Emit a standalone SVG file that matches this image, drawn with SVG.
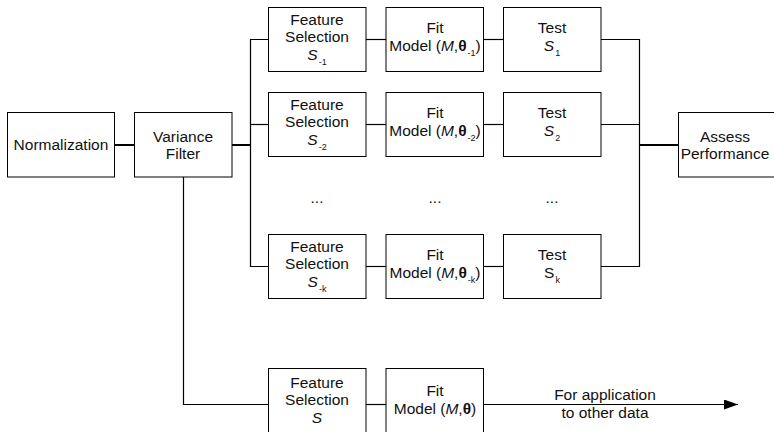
<svg xmlns="http://www.w3.org/2000/svg" width="774" height="432" viewBox="0 0 774 432">
<defs>
<style>
.box{fill:#fff;stroke:#000;stroke-width:1}
.ln{fill:none;stroke:#000;stroke-width:1.2}
.thk{stroke-width:2}
text{font-family:"Liberation Sans",Arial,sans-serif;font-size:15.5px;fill:#111;text-anchor:middle}
.sub{font-size:9px}
.it{font-style:italic}
.b{font-weight:bold}
</style>
<marker id="ah" viewBox="0 0 14 10" refX="14" refY="5" markerWidth="14" markerHeight="10" markerUnits="userSpaceOnUse" orient="auto">
<path d="M0,0 L14,5 L0,10 Z" fill="#000"/>
</marker>
</defs>
<g id="connectors">
<path class="ln thk" d="M114.5,145 H134.5"/>
<path class="ln thk" d="M232,145 H250.5"/>
<path class="ln" d="M268.5,39.5 H250.5 V266.5 H268.5"/>
<path class="ln" d="M250.5,124.5 H268.5"/>
<path class="ln" d="M366,39.5 H386"/>
<path class="ln" d="M366,124.5 H386"/>
<path class="ln" d="M366,266.5 H386"/>
<path class="ln" d="M483.5,39.5 H503.5"/>
<path class="ln" d="M483.5,124.5 H503.5"/>
<path class="ln" d="M483.5,266.5 H503.5"/>
<path class="ln" d="M601,39.5 H639.5 V266.5 H601"/>
<path class="ln" d="M601,124.5 H639.5"/>
<path class="ln thk" d="M639.5,145 H678.5"/>
<path class="ln" d="M183.5,177 V404.5 H268.5"/>
<path class="ln" d="M366,404.5 H386"/>
<path class="ln" d="M483.5,404.5 H738" marker-end="url(#ah)"/>
<text x="605" y="400">For application</text>
<text x="605" y="418">to other data</text>
</g>
<g id="normalization">
<rect class="box" x="7.5" y="112.5" width="107" height="64.5"/>
<text x="61" y="150">Normalization</text>
</g>
<g id="variance-filter">
<rect class="box" x="134.5" y="112.5" width="97.5" height="64.5"/>
<text x="183" y="142">Variance</text>
<text x="183" y="159">Filter</text>
</g>
<g id="fs1">
<rect class="box" x="268.5" y="7.5" width="97.5" height="64"/>
<text x="317" y="25">Feature</text>
<text x="317" y="42">Selection</text>
<text x="317" y="60"><tspan class="it">S</tspan><tspan class="sub" dx="1" dy="5">-1</tspan></text>
</g>
<g id="fit1">
<rect class="box" x="386" y="7.5" width="97.5" height="64"/>
<text x="435" y="33">Fit</text>
<text x="435" y="51">Model (<tspan class="it">M</tspan>,<tspan class="b">θ</tspan><tspan class="sub" dx="1" dy="5">-1</tspan><tspan dy="-5">)</tspan></text>
</g>
<g id="test1">
<rect class="box" x="503.5" y="7.5" width="97.5" height="64"/>
<text x="552" y="33">Test</text>
<text x="552" y="51"><tspan class="it">S</tspan><tspan class="sub" dx="1" dy="5">1</tspan></text>
</g>
<g id="fs2">
<rect class="box" x="268.5" y="92.5" width="97.5" height="64"/>
<text x="317" y="110">Feature</text>
<text x="317" y="127">Selection</text>
<text x="317" y="145"><tspan class="it">S</tspan><tspan class="sub" dx="1" dy="5">-2</tspan></text>
</g>
<g id="fit2">
<rect class="box" x="386" y="92.5" width="97.5" height="64"/>
<text x="435" y="118">Fit</text>
<text x="435" y="136">Model (<tspan class="it">M</tspan>,<tspan class="b">θ</tspan><tspan class="sub" dx="1" dy="5">-2</tspan><tspan dy="-5">)</tspan></text>
</g>
<g id="test2">
<rect class="box" x="503.5" y="92.5" width="97.5" height="64"/>
<text x="552" y="118">Test</text>
<text x="552" y="136"><tspan class="it">S</tspan><tspan class="sub" dx="1" dy="5">2</tspan></text>
</g>
<g id="dots">
<text x="317" y="203">...</text>
<text x="435" y="203">...</text>
<text x="552" y="203">...</text>
</g>
<g id="fsk">
<rect class="box" x="268.5" y="234.5" width="97.5" height="64"/>
<text x="317" y="252">Feature</text>
<text x="317" y="269">Selection</text>
<text x="317" y="287"><tspan class="it">S</tspan><tspan class="sub" dx="1" dy="5">-k</tspan></text>
</g>
<g id="fitk">
<rect class="box" x="386" y="234.5" width="97.5" height="64"/>
<text x="435" y="260">Fit</text>
<text x="435" y="278">Model (<tspan class="it">M</tspan>,<tspan class="b">θ</tspan><tspan class="sub" dx="1" dy="5">-k</tspan><tspan dy="-5">)</tspan></text>
</g>
<g id="testk">
<rect class="box" x="503.5" y="234.5" width="97.5" height="64"/>
<text x="552" y="260">Test</text>
<text x="552" y="278">S<tspan class="sub" dx="1" dy="5">k</tspan></text>
</g>
<g id="assess">
<rect class="box" x="678.5" y="112.5" width="110" height="64.5"/>
<text x="725" y="142">Assess</text>
<text x="725" y="159">Performance</text>
</g>
<g id="fs-final">
<rect class="box" x="268.5" y="368.5" width="97.5" height="72"/>
<text x="317" y="388">Feature</text>
<text x="317" y="405">Selection</text>
<text class="it" x="317" y="423">S</text>
</g>
<g id="fit-final">
<rect class="box" x="386" y="368.5" width="97.5" height="72"/>
<text x="435" y="396">Fit</text>
<text x="435" y="414">Model (<tspan class="it">M</tspan>,<tspan class="b">θ</tspan>)</text>
</g>
</svg>
